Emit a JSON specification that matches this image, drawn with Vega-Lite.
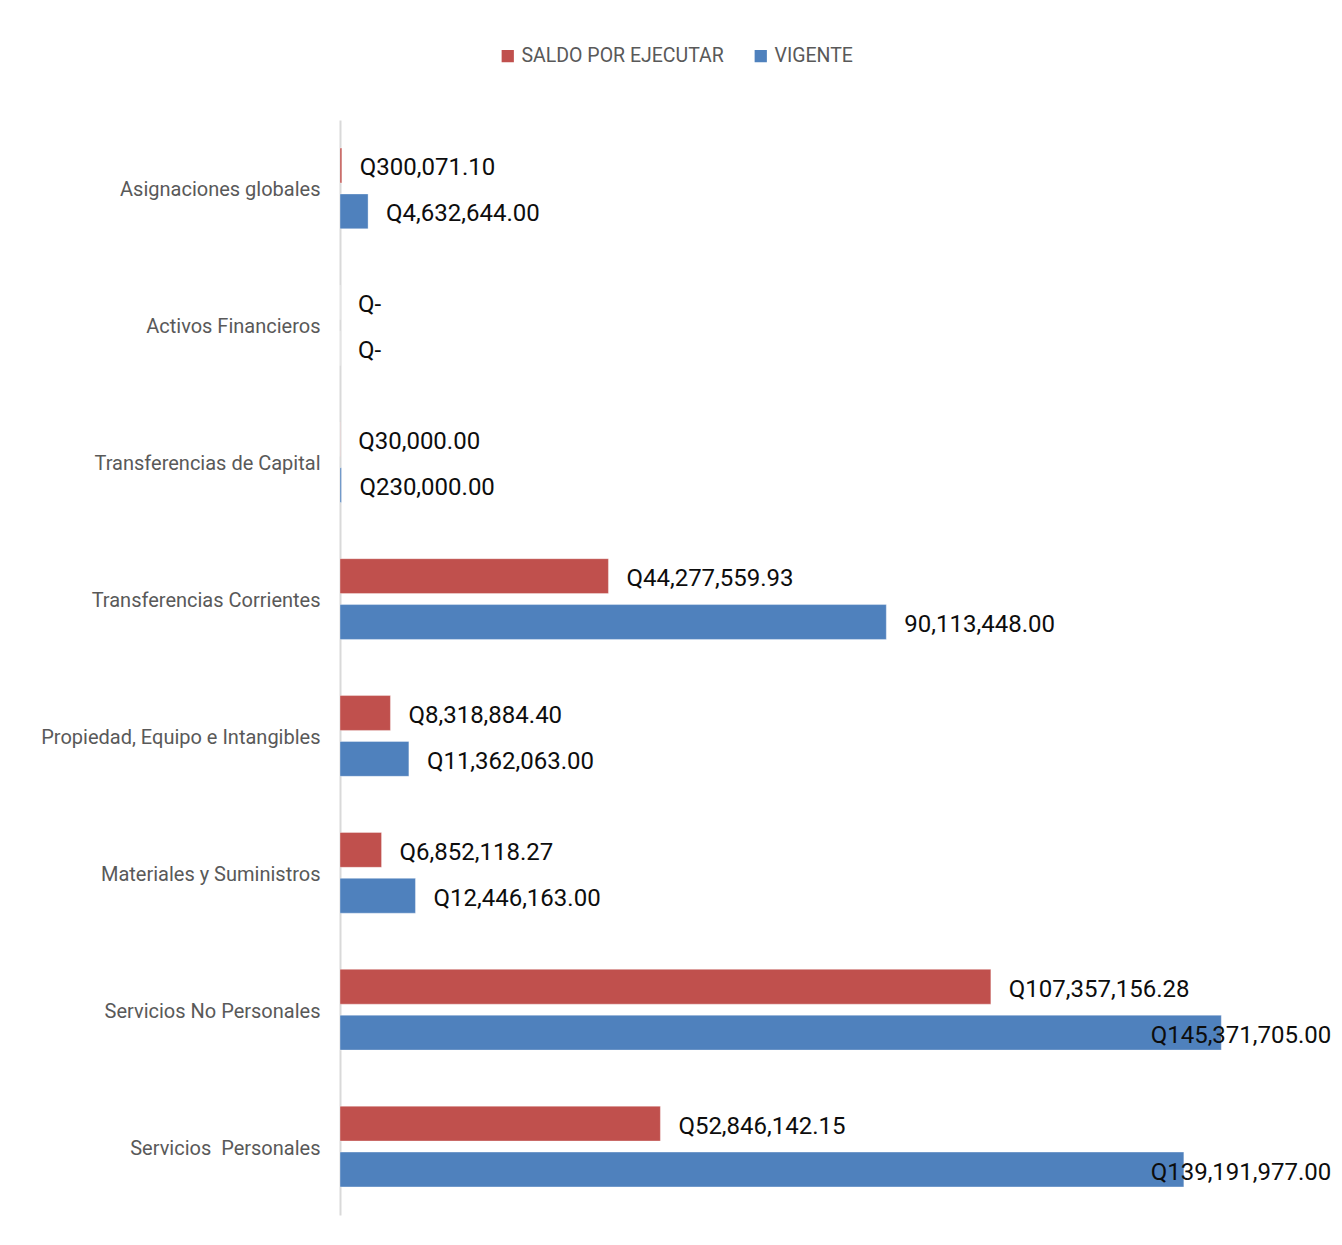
{
  "$schema": "https://vega.github.io/schema/vega-lite/v6.json",
  "width": 970,
  "height": 1095,
  "autosize": "none",
  "padding": {"left": 340, "top": 120, "right": 32, "bottom": 30},
  "background": "white",
  "config": {"view": {"stroke": null}, "font": "Roboto"},
  "data": {
    "values": [
      {"categoria": "Asignaciones globales", "serie": "SALDO POR EJECUTAR", "valor": 300071.10, "etiqueta": "Q300,071.10"},
      {"categoria": "Asignaciones globales", "serie": "VIGENTE", "valor": 4632644.00, "etiqueta": "Q4,632,644.00"},
      {"categoria": "Activos Financieros", "serie": "SALDO POR EJECUTAR", "valor": 0, "etiqueta": "Q-"},
      {"categoria": "Activos Financieros", "serie": "VIGENTE", "valor": 0, "etiqueta": "Q-"},
      {"categoria": "Transferencias de Capital", "serie": "SALDO POR EJECUTAR", "valor": 30000.00, "etiqueta": "Q30,000.00"},
      {"categoria": "Transferencias de Capital", "serie": "VIGENTE", "valor": 230000.00, "etiqueta": "Q230,000.00"},
      {"categoria": "Transferencias Corrientes", "serie": "SALDO POR EJECUTAR", "valor": 44277559.93, "etiqueta": "Q44,277,559.93"},
      {"categoria": "Transferencias Corrientes", "serie": "VIGENTE", "valor": 90113448.00, "etiqueta": "90,113,448.00"},
      {"categoria": "Propiedad, Equipo e Intangibles", "serie": "SALDO POR EJECUTAR", "valor": 8318884.40, "etiqueta": "Q8,318,884.40"},
      {"categoria": "Propiedad, Equipo e Intangibles", "serie": "VIGENTE", "valor": 11362063.00, "etiqueta": "Q11,362,063.00"},
      {"categoria": "Materiales y Suministros", "serie": "SALDO POR EJECUTAR", "valor": 6852118.27, "etiqueta": "Q6,852,118.27"},
      {"categoria": "Materiales y Suministros", "serie": "VIGENTE", "valor": 12446163.00, "etiqueta": "Q12,446,163.00"},
      {"categoria": "Servicios No Personales", "serie": "SALDO POR EJECUTAR", "valor": 107357156.28, "etiqueta": "Q107,357,156.28"},
      {"categoria": "Servicios No Personales", "serie": "VIGENTE", "valor": 145371705.00, "etiqueta": "Q145,371,705.00"},
      {"categoria": "Servicios\u00a0 Personales", "serie": "SALDO POR EJECUTAR", "valor": 52846142.15, "etiqueta": "Q52,846,142.15"},
      {"categoria": "Servicios\u00a0 Personales", "serie": "VIGENTE", "valor": 139191977.00, "etiqueta": "Q139,191,977.00"}
    ]
  },
  "encoding": {
    "y": {
      "field": "categoria",
      "type": "nominal",
      "sort": ["Asignaciones globales", "Activos Financieros", "Transferencias de Capital", "Transferencias Corrientes", "Propiedad, Equipo e Intangibles", "Materiales y Suministros", "Servicios No Personales", "Servicios\u00a0 Personales"],
      "scale": {"paddingInner": 0.41, "paddingOuter": 0.205},
      "axis": {
        "title": null,
        "ticks": false,
        "domainColor": "#D9D9D9",
        "domainWidth": 2,
        "labelColor": "#595959",
        "labelFont": "Roboto",
        "labelFontSize": 20,
        "labelPadding": 20,
        "labelOffset": 2,
        "labelLimit": 0
      }
    },
    "yOffset": {
      "field": "serie",
      "sort": ["SALDO POR EJECUTAR", "VIGENTE"],
      "scale": {"paddingInner": 0.24, "paddingOuter": 0}
    }
  },
  "layer": [
    {
      "mark": {"type": "bar", "stroke": "white", "strokeOpacity": 0.35, "strokeWidth": 1},
      "encoding": {
        "x": {"field": "valor", "type": "quantitative", "scale": {"domain": [0, 160000000]}, "axis": null},
        "color": {
          "field": "serie",
          "type": "nominal",
          "scale": {"domain": ["SALDO POR EJECUTAR", "VIGENTE"], "range": ["#C0504D", "#4F81BD"]},
          "legend": {
            "title": null,
            "orient": "none",
            "direction": "horizontal",
            "legendX": 158,
            "legendY": -74,
            "symbolType": "square",
            "symbolSize": 150,
            "symbolStrokeWidth": 0,
            "labelFont": "Roboto",
            "labelFontSize": 19.5,
            "labelColor": "#595959",
            "labelOffset": 4,
            "labelLimit": 0,
            "columnPadding": 27
          }
        }
      }
    },
    {
      "transform": [{"filter": "datum.valor < 130000000"}],
      "mark": {"type": "text", "align": "left", "baseline": "middle", "dx": 18, "dy": 3, "font": "Roboto", "fontSize": 24, "color": "#0d0d0d"},
      "encoding": {
        "x": {"field": "valor", "type": "quantitative"},
        "text": {"field": "etiqueta"}
      }
    },
    {
      "transform": [
        {"joinaggregate": [{"op": "max", "field": "valor", "as": "maxv"}]},
        {"filter": "datum.valor >= 130000000"}
      ],
      "mark": {"type": "text", "align": "right", "baseline": "middle", "dx": 110, "dy": 3, "font": "Roboto", "fontSize": 24, "color": "#0d0d0d"},
      "encoding": {
        "x": {"field": "maxv", "type": "quantitative"},
        "text": {"field": "etiqueta"}
      }
    }
  ]
}
